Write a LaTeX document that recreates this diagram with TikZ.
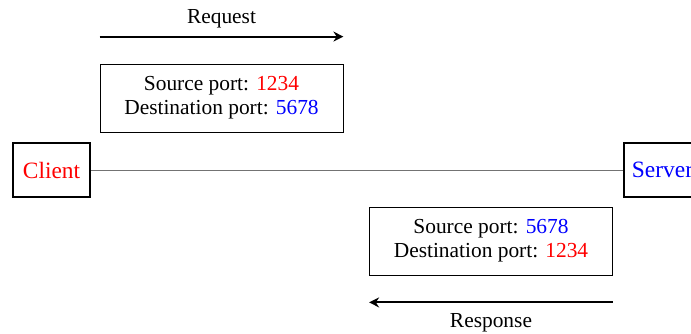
\documentclass[tikz,border=0pt]{standalone}
\usepackage{fontspec}
\setmainfont{Liberation Serif}
\usetikzlibrary{arrows.meta, positioning}

\begin{document}
\begin{tikzpicture}[
  x=1pt, y=1pt,
  font=\fontsize{10.7}{12}\selectfont,
  host/.style={draw, line width=1pt, minimum width=38.5pt, minimum height=27pt,
               inner sep=0pt, font=\fontsize{11.7}{14}\selectfont},
  port/.style={draw, align=center, minimum width=121.5pt, minimum height=34pt, inner sep=0pt},
  flow/.style={-{Stealth[length=5pt, width=5pt]}, line width=1pt},
  lab/.style={inner sep=3.3pt}
]
\useasboundingbox (0,0) rectangle (345.5,166.5);

\node[host, text=red] (client) at (25.75,81.5) {Client};
\node[host, text=blue, anchor=west] (server) at (311.5,81.5) {Server};
\draw[gray!90!black] (client) -- (server);

\node[port] (req) at (110.75,117.5) {Source port: \textcolor{red}{1234}\\Destination port: \textcolor{blue}{5678}};
\node[port] (resp) at (245.5,46) {Source port: \textcolor{blue}{5678}\\Destination port: \textcolor{red}{1234}};

\coordinate[above=13.5pt of req.north west] (reqa);
\coordinate[above=13.5pt of req.north east] (reqb);
\coordinate[below=13.5pt of resp.south east] (respa);
\coordinate[below=13.5pt of resp.south west] (respb);

\draw[flow] (reqa) -- node[lab, above=0.5pt] {Request} (reqb);
\draw[flow] (respa) -- node[lab, below=1.5pt] {Response} (respb);
\end{tikzpicture}
\end{document}
